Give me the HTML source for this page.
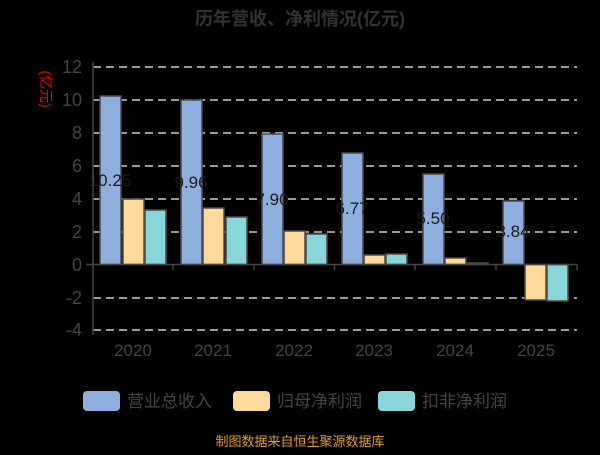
<!DOCTYPE html>
<html><head><meta charset="utf-8"><style>
body{margin:0;background:#000;width:600px;height:450px;overflow:hidden}
svg text{font-family:"Liberation Sans","Noto Sans CJK SC",sans-serif}
</style></head><body>
<svg width="600" height="450" viewBox="0 0 600 450">
<rect width="600" height="450" fill="#000"/>
<text x="300" y="25" text-anchor="middle" font-size="18" font-weight="bold" fill="#333">历年营收、净利情况(亿元)</text>
<text transform="translate(41,89) rotate(90)" text-anchor="middle" font-size="14" fill="#e00">(亿元)</text>
<g stroke="#ccc" stroke-width="1.5" stroke-dasharray="8,5">
<line x1="93" x2="577" y1="67" y2="67"/><line x1="93" x2="577" y1="100" y2="100"/>
<line x1="93" x2="577" y1="133" y2="133"/><line x1="93" x2="577" y1="166" y2="166"/>
<line x1="93" x2="577" y1="199" y2="199"/><line x1="93" x2="577" y1="232" y2="232"/>
<line x1="93" x2="577" y1="298" y2="298"/><line x1="93" x2="577" y1="330" y2="330"/>
</g>
<g font-size="18" fill="#444" text-anchor="end">
<text x="82" y="73">12</text><text x="82" y="106">10</text><text x="82" y="139">8</text>
<text x="82" y="172">6</text><text x="82" y="205">4</text><text x="82" y="238">2</text>
<text x="82" y="271">0</text><text x="82" y="304">-2</text><text x="82" y="336">-4</text>
</g>
<g stroke="#4a4a4a" stroke-width="1.5">
<rect x="100" y="96" width="21" height="168.5" fill="#8eaedd"/>
<rect x="123" y="199" width="21" height="65.5" fill="#ffd99a"/>
<rect x="145" y="210" width="21" height="54.5" fill="#87d6d9"/>
<rect x="181" y="100" width="21" height="164.5" fill="#8eaedd"/>
<rect x="203" y="208" width="21" height="56.5" fill="#ffd99a"/>
<rect x="226" y="217" width="21" height="47.5" fill="#87d6d9"/>
<rect x="262" y="134" width="21" height="130.5" fill="#8eaedd"/>
<rect x="284" y="231" width="21" height="33.5" fill="#ffd99a"/>
<rect x="306" y="234" width="21" height="30.5" fill="#87d6d9"/>
<rect x="342" y="153" width="21" height="111.5" fill="#8eaedd"/>
<rect x="364" y="255" width="21" height="9.5" fill="#ffd99a"/>
<rect x="386" y="254" width="21" height="10.5" fill="#87d6d9"/>
<rect x="423" y="174" width="21" height="90.5" fill="#8eaedd"/>
<rect x="445" y="258" width="21" height="6.5" fill="#ffd99a"/>
<rect x="467" y="263" width="21" height="1.5" fill="#87d6d9"/>
<rect x="503" y="201" width="21" height="63.5" fill="#8eaedd"/>
<rect x="525" y="264.5" width="21" height="35.5" fill="#ffd99a"/>
<rect x="547" y="264.5" width="21" height="36.5" fill="#87d6d9"/>
</g>
<g font-size="17" fill="#1a1a1a" text-anchor="middle">
<text x="110" y="186">10.25</text><text x="191" y="188">9.96</text><text x="272" y="205">7.90</text>
<text x="352" y="214">6.77</text><text x="433" y="224">5.50</text><text x="513" y="237">3.84</text>
</g>
<g stroke="#444" stroke-width="1.5">
<line x1="93" x2="93" y1="62" y2="335"/>
<line x1="86" x2="577" y1="264.5" y2="264.5"/>
<line x1="173" x2="173" y1="264" y2="270"/><line x1="254" x2="254" y1="264" y2="270"/>
<line x1="334.5" x2="334.5" y1="264" y2="270"/><line x1="415" x2="415" y1="264" y2="270"/>
<line x1="496" x2="496" y1="264" y2="270"/><line x1="577" x2="577" y1="264" y2="270"/>
</g>
<g font-size="17" fill="#444" text-anchor="middle">
<text x="133" y="356">2020</text><text x="213" y="356">2021</text><text x="294" y="356">2022</text>
<text x="374" y="356">2023</text><text x="455" y="356">2024</text><text x="536" y="356">2025</text>
</g>
<rect x="83" y="391" width="37" height="20" rx="4" fill="#8eaedd"/>
<text x="127" y="407" font-size="17" fill="#444">营业总收入</text>
<rect x="233" y="391" width="37" height="20" rx="4" fill="#ffd99a"/>
<text x="277" y="407" font-size="17" fill="#444">归母净利润</text>
<rect x="378" y="391" width="37" height="20" rx="4" fill="#87d6d9"/>
<text x="422" y="407" font-size="17" fill="#444">扣非净利润</text>
<text x="300" y="446" text-anchor="middle" font-size="13" fill="#e6a020">制图数据来自恒生聚源数据库</text>
</svg>
</body></html>
